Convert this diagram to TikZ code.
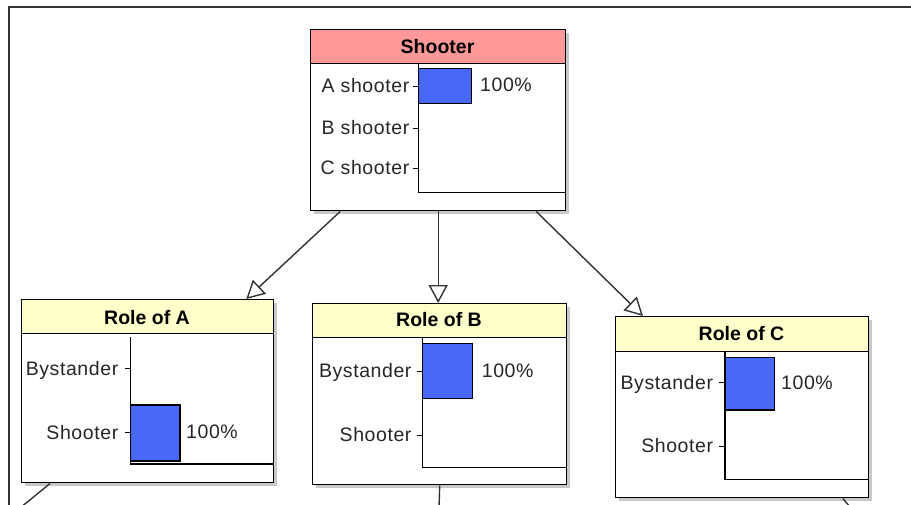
\documentclass[tikz,border=0pt]{standalone}
\usepackage{fontspec}
\setmainfont{Liberation Sans}
\newfontfamily\spacedfont{Liberation Sans}[LetterSpace=3]
\usetikzlibrary{arrows.meta,calc}
\definecolor{titlepink}{RGB}{255,153,153}
\definecolor{titleyellow}{RGB}{255,255,204}
\definecolor{barblue}{RGB}{72,104,248}
\definecolor{shadowgray}{RGB}{200,200,200}
\definecolor{linegray}{RGB}{50,50,50}
\tikzset{
  box/.style={draw=black, line width=1.4pt, fill=white, rectangle, inner sep=0pt, anchor=north west},
  shadowbox/.style={fill=shadowgray, draw=none, rectangle, inner sep=0pt, anchor=north west},
  titleband/.style={draw=black, line width=1.4pt, rectangle, inner sep=0pt, anchor=north west},
  titletext/.style={font=\fontsize{19.5}{20}\selectfont\bfseries, anchor=base, inner sep=0pt},
  lbl/.style={font=\spacedfont\fontsize{19.5}{20}\selectfont, anchor=base east, inner sep=0pt, text=black!85},
  pct/.style={font=\spacedfont\fontsize{19.5}{20}\selectfont, anchor=base west, inner sep=0pt, text=black!85},
  bar/.style={draw=black, line width=1.2pt, fill=barblue},
  axis/.style={draw=black, line width=1.2pt},
  tick/.style={draw=black, line width=1pt},
  conn/.style={draw=linegray, line width=1.4pt, -{Triangle[open, length=18pt, width=19pt, fill=white]}},
  outconn/.style={draw=linegray, line width=1.4pt},
}
\begin{document}
\begin{tikzpicture}[x=1pt,y=-1pt]
\useasboundingbox (0,0) rectangle (911,504);
% outer frame
\draw[linegray, line width=2pt] (9,506) -- (9,7) -- (912,7);

% ---------- Shooter ----------
\node[shadowbox, minimum width=255pt, minimum height=181pt] (shooterS) at (314,33) {};
\node[box, minimum width=255pt, minimum height=181pt] (shooter) at (310,29) {};
\node[titleband, fill=titlepink, minimum width=255pt, minimum height=34pt] (shooterT) at (310,29) {};
\node[titletext] (shooterTT) at (437.5,53.3) {Shooter};
\draw[bar] (418.3,68.3) rectangle (471.7,103.3);
\draw[axis] (418.3,63) -- (418.3,192.5) -- (565,192.5);
\node[lbl] (sA) at (409.5,92.7) {A shooter};
\node[lbl] (sB) at (409.5,134.7) {B shooter};
\node[lbl] (sC) at (409.5,174.7) {C shooter};
\draw[tick] (412.5,86) -- (418.3,86);
\draw[tick] (412.5,128) -- (418.3,128);
\draw[tick] (412.5,168) -- (418.3,168);
\node[pct] (sP) at (480,91.7) {100\%};

% ---------- Role of A ----------
\node[shadowbox, minimum width=252pt, minimum height=183pt] (roleAS) at (25,303) {};
\node[box, minimum width=252pt, minimum height=183pt] (roleA) at (21,299) {};
\node[titleband, fill=titleyellow, minimum width=252pt, minimum height=34pt] (roleAT) at (21,299) {};
\node[titletext] (roleATT) at (147,324) {Role of A};
\draw[bar] (130.7,405) rectangle (180,461);
\draw[axis] (130.7,337) -- (130.7,464) -- (273,464);
\node[lbl] (aBy) at (118.5,375) {Bystander};
\node[lbl] (aSh) at (118.5,439.5) {Shooter};
\draw[tick] (125,368) -- (130.7,368);
\draw[tick] (125,432.7) -- (130.7,432.7);
\node[pct] (aP) at (186,438.5) {100\%};

% ---------- Role of B ----------
\node[shadowbox, minimum width=254pt, minimum height=181pt] (roleBS) at (316,307) {};
\node[box, minimum width=254pt, minimum height=181pt] (roleB) at (312,303) {};
\node[titleband, fill=titleyellow, minimum width=254pt, minimum height=34pt] (roleBT) at (312,303) {};
\node[titletext] (roleBTT) at (439,326.7) {Role of B};
\draw[bar] (422.3,343.3) rectangle (472.7,398.3);
\draw[axis] (422.3,337) -- (422.3,467.7) -- (566,467.7);
\node[lbl] (bBy) at (411.7,377.7) {Bystander};
\node[lbl] (bSh) at (411.7,441.7) {Shooter};
\draw[tick] (416.7,371) -- (422.3,371);
\draw[tick] (416.7,435) -- (422.3,435);
\node[pct] (bP) at (481.7,377.3) {100\%};

% ---------- Role of C ----------
\node[shadowbox, minimum width=253pt, minimum height=181pt] (roleCS) at (619,320) {};
\node[box, minimum width=253pt, minimum height=181pt] (roleC) at (615,316) {};
\node[titleband, fill=titleyellow, minimum width=253pt, minimum height=35pt] (roleCT) at (615,316) {};
\node[titletext] (roleCTT) at (741.5,340.5) {Role of C};
\draw[bar] (725,357.3) rectangle (774.3,410);
\draw[axis] (725,351) -- (725,479.3) -- (868,479.3);
\node[lbl] (cBy) at (713.3,389.5) {Bystander};
\node[lbl] (cSh) at (713.3,452.7) {Shooter};
\draw[tick] (719,382.7) -- (725,382.7);
\draw[tick] (719,446) -- (725,446);
\node[pct] (cP) at (781,389) {100\%};

% ---------- connectors ----------
\draw[conn] ($(shooter.south west)!0.118!(shooter.south east)$) -- ($(roleA.north west)!0.889!(roleA.north east)$);
\draw[conn] (shooter.south) -- (shooter.south |- roleB.north);
\draw[conn] ($(shooter.south west)!0.882!(shooter.south east)$) -- ($(roleC.north west)!0.11!(roleC.north east)$);

% outgoing connectors (to nodes outside the view)
\coordinate (outA) at (20,508);
\coordinate (outB) at (439,508);
\coordinate (outC) at (851,508);
\draw[outconn] ($(roleA.south west)!0.115!(roleA.south east)$) -- (outA);
\draw[outconn] ($(roleB.south west)!0.5!(roleB.south east)$) -- (outB);
\draw[outconn] ($(roleC.south west)!0.895!(roleC.south east)$) -- (outC);
\end{tikzpicture}
\end{document}
